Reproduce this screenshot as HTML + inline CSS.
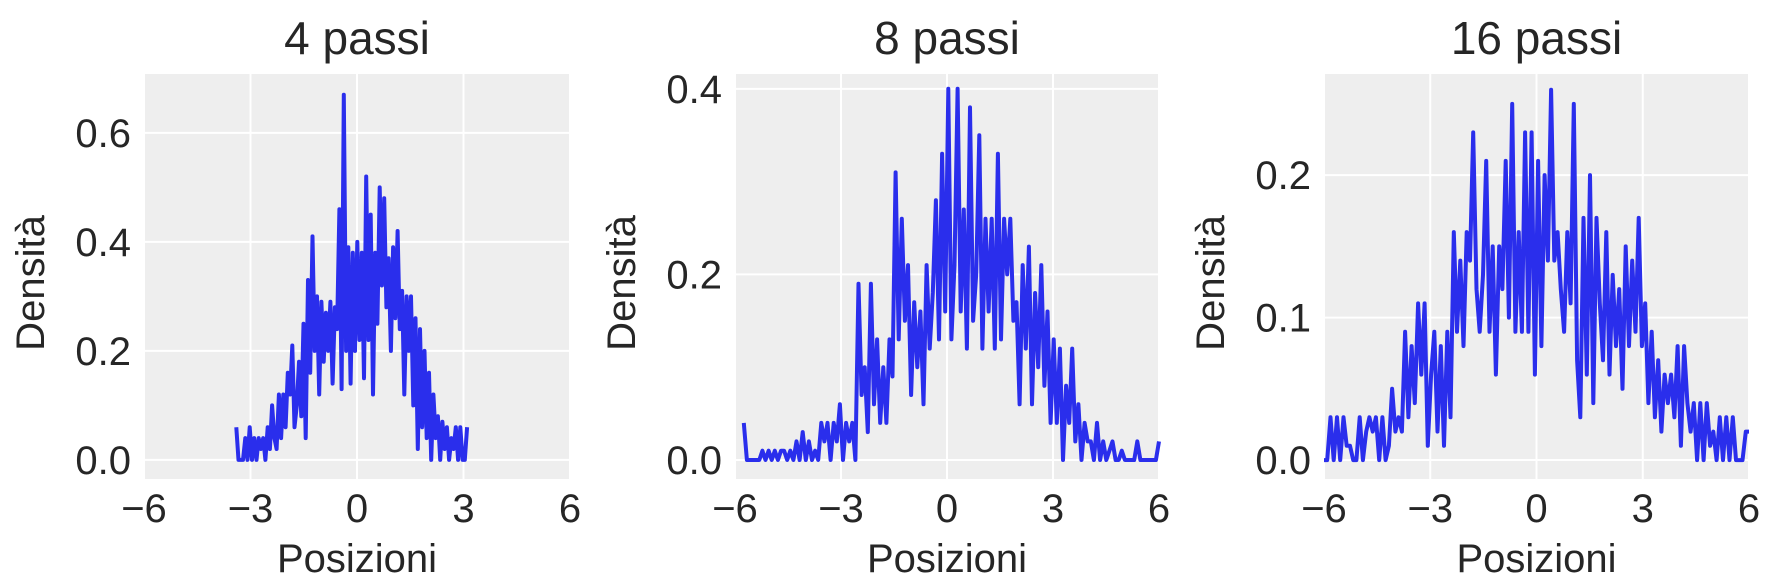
<!DOCTYPE html>
<html><head><meta charset="utf-8"><style>
html,body{margin:0;padding:0;background:#fff;}
svg{display:block;font-family:"Liberation Sans","DejaVu Sans",sans-serif;}
</style></head><body>
<svg id="fig" width="1779" height="578" xmlns="http://www.w3.org/2000/svg"></svg>
<script>
const titles = ["4 passi","8 passi","16 passi"];
const xTicks = [-6,-3,0,3,6];
const xTickLabels = ["\u22126","\u22123","0","3","6"];
const yTicks1 = [0,0.2,0.4,0.6];
const yTicks2 = [0,0.2,0.4];
const yTicks3 = [0,0.1,0.2];
const xRange1 = [-3.4,3.1];
const xRange2 = [-5.75,6.0];
const xRange3 = [-6.0,6.0];
const dens1 = [0.06,0,0,0,0.04,0,0.06,0,0.04,0,0.04,0.02,0.04,0,0.06,0.02,0.1,0.04,0.02,0.12,0.04,0.12,0.06,0.16,0.12,0.21,0.06,0.1,0.18,0.08,0.25,0.04,0.33,0.16,0.41,0.2,0.3,0.12,0.29,0.18,0.27,0.2,0.29,0.14,0.28,0.24,0.46,0.13,0.67,0.2,0.39,0.14,0.38,0.2,0.4,0.22,0.38,0.15,0.52,0.22,0.45,0.12,0.38,0.25,0.5,0.32,0.48,0.28,0.37,0.2,0.39,0.26,0.42,0.24,0.31,0.12,0.3,0.2,0.3,0.1,0.26,0.02,0.24,0.06,0.2,0.04,0.16,0.0,0.12,0.04,0.08,0.0,0.07,0.02,0.06,0.0,0.04,0.02,0.06,0.0,0.06,0,0,0.06];
const dens2 = [0.04,0,0,0,0,0,0.01,0,0.01,0,0.01,0,0.01,0.01,0,0.01,0,0.02,0,0.03,0,0.02,0,0.01,0,0.04,0.02,0.04,0,0.04,0.02,0.06,0,0.04,0.02,0.04,0,0.19,0.07,0.1,0.03,0.19,0.06,0.13,0.04,0.1,0.04,0.13,0.09,0.31,0.13,0.26,0.15,0.21,0.07,0.17,0.1,0.16,0.06,0.21,0.12,0.18,0.28,0.13,0.33,0.16,0.4,0.13,0.21,0.4,0.16,0.27,0.12,0.38,0.15,0.2,0.35,0.12,0.26,0.16,0.26,0.12,0.33,0.13,0.26,0.2,0.26,0.15,0.17,0.06,0.21,0.12,0.23,0.06,0.18,0.1,0.21,0.08,0.16,0.04,0.13,0.04,0.12,0.0,0.08,0.04,0.12,0.02,0.06,0,0.04,0.02,0.02,0,0.04,0,0.02,0,0.01,0.02,0,0,0.01,0,0,0,0,0.02,0,0,0,0,0,0,0.02];
const dens3 = [0,0,0.03,0,0.03,0,0.03,0.01,0.01,0,0,0.03,0,0.02,0.03,0.02,0.03,0,0.03,0,0.01,0.05,0.02,0.03,0.02,0.09,0.03,0.08,0.04,0.11,0.06,0.11,0.01,0.06,0.09,0.02,0.08,0.01,0.09,0.03,0.16,0.09,0.14,0.08,0.16,0.14,0.23,0.12,0.09,0.13,0.21,0.09,0.15,0.06,0.15,0.12,0.21,0.1,0.25,0.09,0.16,0.09,0.23,0.09,0.23,0.06,0.21,0.08,0.2,0.14,0.26,0.14,0.16,0.12,0.09,0.16,0.11,0.25,0.07,0.03,0.17,0.06,0.2,0.04,0.17,0.11,0.07,0.16,0.06,0.13,0.08,0.12,0.05,0.15,0.08,0.14,0.09,0.17,0.08,0.11,0.04,0.09,0.03,0.07,0.02,0.06,0.04,0.06,0.03,0.08,0.01,0.08,0.04,0.02,0.04,0,0.04,0,0.04,0.01,0.02,0,0.03,0,0.03,0,0.03,0,0,0,0.02,0.02];

const NS="http://www.w3.org/2000/svg";
const svg=document.getElementById('fig');
function mk(tag,attrs,parent){const e=document.createElementNS(NS,tag);for(const k in attrs)e.setAttribute(k,attrs[k]);(parent||svg).appendChild(e);return e;}

const panels=[
 {x0:144,x1:570,yTop:74,yBot:479,yMin:-0.035,yMax:0.708,ticks:yTicks1,data:dens1,xr:xRange1},
 {x0:735,x1:1159,yTop:74,yBot:479,yMin:-0.0205,yMax:0.416,ticks:yTicks2,data:dens2,xr:xRange2},
 {x0:1324,x1:1749,yTop:74,yBot:479,yMin:-0.0133,yMax:0.271,ticks:yTicks3,data:dens3,xr:xRange3}
];
panels.forEach((p,i)=>{
  const g=mk('g',{});
  
  
  const sx=v=>p.x0+(v+6)/12*(p.x1-p.x0);
  const sy=v=>p.yBot-(v-p.yMin)/(p.yMax-p.yMin)*(p.yBot-p.yTop);
  const bg=mk('rect',{x:p.x0,y:p.yTop,width:p.x1-p.x0,height:p.yBot-p.yTop,fill:'#eeeeee'},g);
  
  
  xTicks.forEach((t,k)=>{
    mk('line',{x1:sx(t),x2:sx(t),y1:p.yTop,y2:p.yBot,stroke:'#fff','stroke-width':2},g);
    const tl=mk('text',{x:sx(t),y:522,'text-anchor':'middle','font-size':40,fill:'#262626'},g);
    tl.textContent=xTickLabels[k];
    
    
  });
  p.ticks.forEach(t=>{
    mk('line',{x1:p.x0,x2:p.x1,y1:sy(t),y2:sy(t),stroke:'#fff','stroke-width':2},g);
    const tl=mk('text',{x:p.x0-13,y:sy(t)+14,'text-anchor':'end','font-size':40,fill:'#262626'},g);
    tl.textContent=t.toFixed(1);
    
    
  });
  const n=p.data.length;
  const pts=p.data.map((v,k)=>{
    const xv=p.xr[0]+k*(p.xr[1]-p.xr[0])/(n-1);
    return sx(xv).toFixed(1)+','+sy(v).toFixed(1);
  }).join(' ');
  const ln=mk('polyline',{points:pts,fill:'none',stroke:'#2a2eec','stroke-width':4,'stroke-linejoin':'round'},g);
  
  
  const cx=(p.x0+p.x1)/2;
  const tt=mk('text',{x:cx,y:54,'text-anchor':'middle','font-size':46,fill:'#262626'},g);
  tt.textContent=titles[i];
  
  
  const xl=mk('text',{x:cx,y:572,'text-anchor':'middle','font-size':40,fill:'#262626'},g);
  xl.textContent='Posizioni';
  
  
  const ylx=p.x0-100;
  const yl=mk('text',{x:ylx,y:283,'text-anchor':'middle','font-size':40,fill:'#262626',transform:'rotate(-90 '+ylx+' 283)'},g);
  yl.textContent='Densità';
  
  
});
</script>
</body></html>
